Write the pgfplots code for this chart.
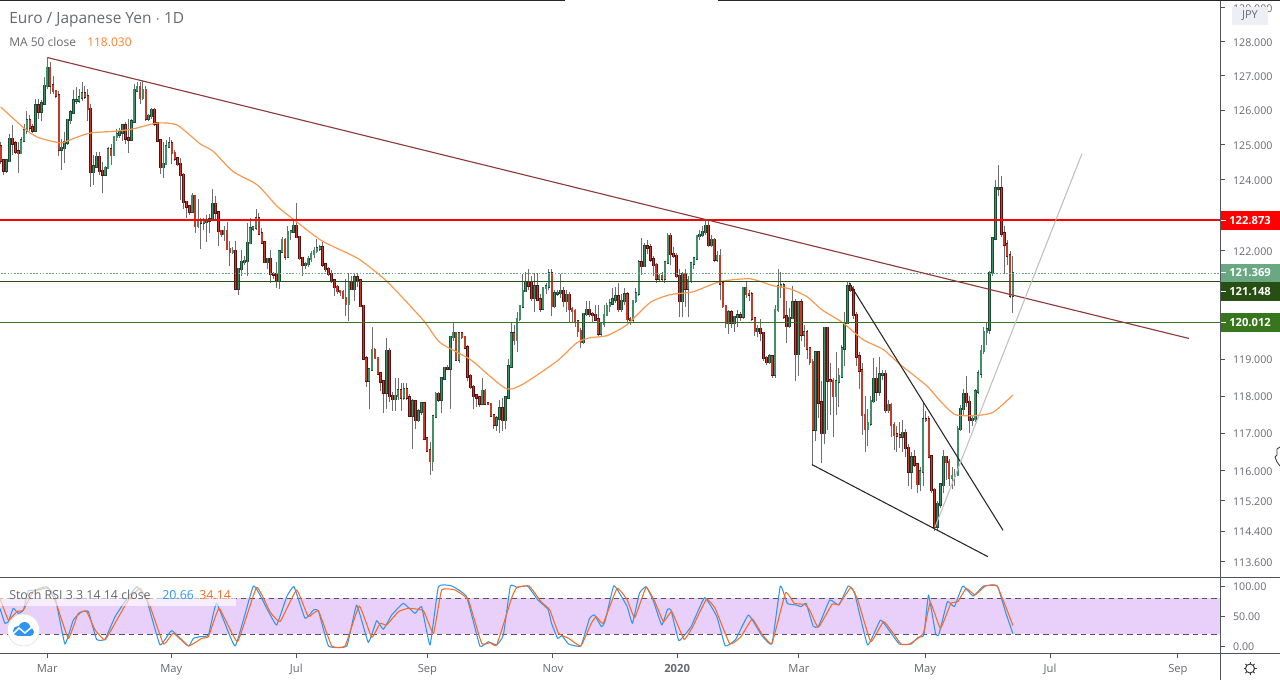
\documentclass[border=0pt]{standalone}
\usepackage{pgfplots}
\usepackage{pgfplotstable}
\usepackage{fontspec}
\setmainfont{Open Sans}
\pgfplotsset{compat=1.18}
\definecolor{gfill}{HTML}{3F9068}
\definecolor{gdark}{HTML}{1B4A33}
\definecolor{rfill}{HTML}{C63A2A}
\definecolor{rdark}{HTML}{5C0F0F}
\definecolor{wick}{HTML}{6E6E6E}
\definecolor{txt}{HTML}{666870}
\definecolor{axc}{HTML}{50535A}
\definecolor{maorange}{HTML}{F8994F}
\definecolor{band}{HTML}{E8D0FB}
\definecolor{bandline}{HTML}{5A5060}
\definecolor{kblue}{HTML}{2F96F0}
\definecolor{dorange}{HTML}{F66A24}
\definecolor{trend}{HTML}{8E3A3A}
\definecolor{lvlred}{HTML}{FF0000}
\definecolor{lvlpale}{HTML}{6AA884}
\definecolor{lvldark}{HTML}{274E13}
\definecolor{lvlgreen}{HTML}{38761D}
\definecolor{jpybox}{HTML}{EEEEF5}
\definecolor{maval}{HTML}{FF7F2A}
\pgfplotstableread{
n o c h l
0 124.96 124.55 125.08 124.45
1 124.55 124.27 124.55 124.15
2 124.27 124.55 124.6 124.2
3 124.54 125.17 125.32 124.54
4 125.17 125.04 125.57 124.73
5 125.04 124.82 125.1 124.75
6 124.82 124.77 125.08 124.21
7 124.77 125.13 125.22 124.74
8 125.13 125.42 125.6 125.08
9 125.42 125.71 125.98 125.32
10 125.71 125.5 125.85 125.4
11 125.5 125.41 125.6 125.35
12 125.41 126.14 126.32 125.36
13 126.14 125.96 126.32 125.74
14 125.96 126.2 126.3 125.7
15 126.2 126.7 126.96 126.18
16 126.7 127.22 127.55 126.62
17 127.22 126.72 127.4 126.47
18 126.72 126.55 127.0 126.47
19 126.55 126.43 126.6 126.35
20 126.43 124.87 126.57 124.68
21 124.87 124.91 125.18 124.28
22 124.91 125.07 125.38 124.48
23 125.07 125.72 125.75 125.0
24 125.72 125.93 126 125.6
25 125.93 126.28 126.58 125.9
26 126.28 126.29 126.67 126.18
27 126.29 126.37 126.63 126.2
28 126.37 126.49 126.81 126.27
29 126.49 126.4 126.71 126.32
30 126.4 126.04 126.61 125.69
31 126.04 124.23 126.17 123.8
32 124.23 124.39 124.73 123.86
33 124.39 124.65 124.79 124.39
34 124.65 124.25 124.79 124.15
35 124.25 124.15 124.5 123.64
36 124.15 124.34 124.39 124.12
37 124.34 124.87 124.93 124.34
38 124.87 124.72 125.03 124.44
39 124.72 125.23 125.25 124.7
40 125.23 125.3 125.45 125.1
41 125.3 125.36 125.5 125.2
42 125.36 125.56 125.6 125.12
43 125.56 125.19 125.65 125.02
44 125.19 125.15 125.74 124.77
45 125.15 125.68 125.75 125.1
46 125.68 126.58 126.77 125.65
47 126.58 126.67 126.81 126.53
48 126.67 126.36 126.81 126.17
49 126.36 126.58 126.86 126.3
50 126.58 125.76 126.7 125.7
51 125.76 125.84 125.9 125.7
52 125.84 126.01 126.08 125.75
53 126.01 125.62 126.05 125.55
54 125.62 125.13 125.65 125.08
55 125.13 124.37 125.18 124.17
56 124.37 124.45 125.08 124.07
57 124.45 124.96 125.13 124.43
58 124.96 125.05 125.23 124.9
59 125.05 124.77 125.13 124.45
60 124.77 124.61 124.85 124.55
61 124.61 124.46 124.65 124.4
62 124.46 124.14 124.63 123.42
63 124.14 123.37 124.2 123.19
64 123.37 123.24 123.4 122.93
65 123.24 123.1 123.3 123.0
66 123.1 123.55 123.63 123.08
67 123.55 122.7 123.55 122.5
68 122.7 122.81 123.45 122.65
69 122.81 122.79 122.93 122.06
70 122.79 122.81 122.93 122.6
71 122.81 122.85 123.0 122.25
72 122.85 122.88 123.03 122.5
73 122.88 123.32 123.74 122.85
74 123.32 123.08 123.54 122.9
75 123.08 122.56 123.07 122.13
76 122.56 122.47 122.6 122.4
77 122.47 122.56 122.7 122.27
78 122.56 122.05 122.8 122.03
79 122.05 121.97 122.27 121.58
80 121.97 122.0 122.1 121.9
81 122.0 120.96 122.27 120.96
82 120.96 121.49 121.52 120.77
83 121.49 121.69 122.03 121.3
84 121.69 121.72 121.85 121.6
85 121.72 122.22 122.77 121.3
86 122.22 122.62 122.93 122.18
87 122.62 122.65 122.7 122.55
88 122.65 122.9 123.19 122.6
89 122.9 122.49 123.07 122.49
90 122.49 122.24 122.65 122.2
91 122.24 121.69 122.27 121.66
92 121.69 121.77 121.8 121.5
93 121.77 121.36 122.03 121.1
94 121.36 121.33 121.4 121.2
95 121.33 121.16 121.68 120.97
96 121.16 121.98 122.03 120.94
97 121.98 122.3 122.4 121.95
98 122.3 121.84 122.35 121.75
99 121.84 122.53 122.7 121.8
100 122.53 122.54 122.6 122.3
101 122.54 122.7 122.88 122.5
102 122.7 122.39 123.36 122.35
103 122.39 121.8 122.4 121.75
104 121.8 121.6 121.8 121.3
105 121.6 121.63 121.7 121.5
106 121.63 121.77 121.85 121.55
107 121.77 121.91 122.0 121.7
108 121.91 122.0 122.1 121.8
109 122.0 122.06 122.33 121.95
110 122.06 122.1 122.15 122.0
111 122.1 121.62 122.27 121.55
112 121.62 121.49 121.65 121.4
113 121.49 121.36 121.55 121.3
114 121.36 121.17 121.47 121.1
115 121.17 120.99 121.2 120.75
116 120.99 120.88 121.05 120.8
117 120.88 120.85 120.9 120.75
118 120.85 120.69 120.9 120.65
119 120.69 120.52 121.2 120.2
120 120.52 121.11 121.39 120.04
121 121.11 120.94 121.3 120.9
122 120.94 121.25 121.35 120.6
123 121.25 121.17 121.39 121.0
124 121.17 120.46 121.19 120.46
125 120.46 119.02 120.5 119.0
126 119.02 118.43 119.1 118.24
127 118.43 118.72 118.75 117.65
128 118.72 119.26 119.9 118.7
129 119.26 119.03 119.3 119.0
130 119.03 118.62 119.05 118.6
131 118.62 118.4 118.65 118.15
132 118.4 118.1 118.45 117.55
133 118.1 119.23 119.58 117.65
134 119.23 118.0 119.3 117.85
135 118.0 117.92 118.1 117.6
136 117.92 118.0 118.5 117.6
137 118.0 118.15 118.5 117.9
138 118.15 117.96 118.35 117.6
139 117.96 118.18 118.35 117.9
140 118.18 117.96 118.35 117.9
141 117.96 117.47 118.05 117.45
142 117.47 117.85 117.92 116.58
143 117.85 117.35 117.9 117.12
144 117.35 117.59 117.65 117.3
145 117.59 117.8 117.85 117.5
146 117.8 116.86 117.85 116.85
147 116.86 116.53 116.9 116.5
148 116.53 116.26 116.75 115.88
149 116.26 117.45 117.5 116.0
150 117.45 118.05 118.1 117.4
151 118.05 117.91 118.1 117.85
152 117.91 118.48 118.52 117.55
153 118.48 118.77 118.8 118.45
154 118.77 118.75 118.85 118.7
155 118.75 119.61 119.65 117.65
156 119.61 119.72 120.0 119.5
157 119.72 119.0 119.75 118.95
158 119.0 119.71 119.75 118.9
159 119.71 119.61 119.75 119.55
160 119.61 119.32 119.65 119.3
161 119.32 118.54 119.4 118.4
162 118.54 118.24 118.6 118.2
163 118.24 118.01 118.3 117.65
164 118.01 117.96 118.05 117.7
165 117.96 117.8 118.0 117.7
166 117.8 118.14 118.5 117.75
167 118.14 117.8 118.2 117.75
168 117.8 117.79 117.85 117.75
169 117.79 117.48 117.8 117.45
170 117.48 117.23 117.5 117.1
171 117.23 117.4 117.45 117.05
172 117.4 117.67 117.9 117.0
173 117.67 117.35 117.95 117.05
174 117.35 117.96 118.0 117.1
175 117.96 118.8 119.0 117.95
176 118.8 119.7 120.0 118.75
177 119.7 119.53 119.95 119.4
178 119.53 120.1 120.3 119.2
179 120.1 120.46 120.5 120.05
180 120.45 120.88 121.35 120.4
181 120.88 121.11 121.4 120.85
182 121.11 121.03 121.48 120.9
183 121.11 120.69 121.3 120.6
184 120.69 121.0 121.39 120.3
185 121.0 120.65 121.39 120.6
186 120.65 120.4 120.8 120.3
187 120.4 120.97 121.0 120.35
188 120.97 121.0 121.1 120.8
189 121.0 121.37 121.48 120.9
190 121.37 120.46 121.48 120.2
191 120.46 120.81 120.9 120.4
192 120.81 120.83 120.9 120.75
193 120.83 120.88 121.35 120.7
194 120.88 120.6 121.0 120.45
195 120.6 120.77 120.9 120.3
196 120.77 120.38 120.85 120.0
197 120.38 120.33 120.45 120.0
198 120.33 120.03 120.38 119.9
199 120.03 119.78 120.05 119.6
200 119.78 119.48 119.85 119.3
201 119.48 120.24 120.28 119.42
202 120.24 120.35 120.6 120.2
203 120.35 120.24 120.6 120.15
204 120.24 120.22 120.3 120.0
205 120.22 120.09 120.5 120.05
206 120.09 119.71 120.5 119.65
207 119.71 119.97 120.0 119.65
208 119.97 120.22 120.5 119.9
209 120.22 120.46 120.55 120.2
210 120.46 120.54 120.65 120.3
211 120.54 120.64 120.97 120.5
212 120.64 120.72 121.0 120.55
213 120.72 120.38 121.1 120.3
214 120.38 120.6 120.8 120.3
215 120.6 120.78 120.95 120.5
216 120.78 120.1 120.85 120.0
217 120.1 120.09 120.15 119.95
218 120.09 120.6 120.62 120.0
219 120.6 120.81 120.95 120.55
220 120.81 121.67 121.75 120.75
221 121.67 121.58 122.37 121.34
222 121.58 122.12 122.22 121.55
223 122.12 122.1 122.3 121.9
224 122.1 121.76 122.2 121.7
225 121.76 121.6 121.85 121.3
226 121.6 121.23 121.65 121.1
227 121.23 121.3 121.35 121.15
228 121.3 121.23 121.4 121.15
229 121.23 121.67 121.7 121.1
230 121.67 122.42 122.5 121.65
231 122.42 121.91 122.5 121.6
232 121.91 121.86 122.1 121.8
233 121.86 121.3 121.95 121.25
234 121.3 120.6 121.48 120.16
235 120.6 121.36 121.4 120.15
236 121.36 120.96 121.48 120.45
237 120.96 121.19 121.3 120.15
238 121.19 121.65 121.7 121.1
239 121.65 121.78 121.8 121.5
240 121.78 122.42 122.45 121.75
241 122.42 122.44 122.6 122.3
242 122.44 122.53 122.7 122.4
243 122.53 122.7 122.87 122.45
244 122.7 122.16 122.87 122.1
245 122.16 122.3 122.45 122.1
246 122.3 121.76 122.35 121.7
247 121.76 121.85 122.0 121.7
248 121.85 121.09 122.05 120.62
249 121.09 120.46 121.1 120.4
250 120.46 119.99 120.5 119.85
251 119.99 120.29 120.35 119.7
252 120.29 119.99 120.35 119.85
253 119.99 120.16 120.2 119.75
254 120.16 120.2 120.35 119.9
255 120.2 120.18 120.3 120.05
256 120.18 120.97 121.0 120.1
257 120.97 120.8 121.17 120.7
258 120.8 120.78 120.9 120.6
259 120.78 120.12 120.85 120.05
260 120.12 119.78 120.15 119.65
261 119.78 119.83 119.95 119.6
262 119.83 119.72 120.1 119.5
263 119.72 119.04 119.75 118.95
264 119.04 118.93 119.1 118.85
265 118.93 119.08 119.15 118.88
266 119.08 118.58 119.1 118.5
267 118.58 120.36 120.5 118.5
268 120.36 121.0 121.48 120.3
269 121.0 121.03 121.4 120.7
270 121.03 120.18 121.1 120.1
271 120.18 119.91 120.6 119.45
272 119.91 120.13 120.4 119.85
273 120.13 120.56 121.03 120.1
274 120.56 119.15 120.65 118.41
275 119.15 120.56 120.6 118.55
276 120.56 119.68 120.65 119.5
277 119.68 119.74 119.95 119.35
278 119.74 119.3 119.8 119.0
279 119.3 118.92 119.35 118.85
280 118.92 117.1 119.0 116.13
281 117.1 119.18 119.2 116.8
282 119.18 117.82 119.2 117.4
283 117.82 117.0 118.4 116.2
284 117.0 119.86 119.9 116.7
285 119.86 118.43 119.9 117.09
286 118.43 118.41 118.9 117.5
287 118.41 118.0 118.5 116.9
288 118.0 118.39 119.2 117.5
289 118.39 118.54 118.75 117.7
290 118.54 119.3 119.4 118.5
291 119.3 119.99 120.3 118.82
292 119.99 121.0 121.13 119.97
293 121.0 120.91 121.1 120.85
294 120.91 120.21 121.02 120.1
295 120.21 119.07 120.3 118.82
296 119.07 118.69 119.2 118.2
297 118.69 117.49 118.9 116.96
298 117.49 117.11 118.0 116.5
299 117.11 117.27 117.65 116.65
300 117.27 117.87 118.0 117.2
301 117.87 118.47 119.04 117.8
302 118.47 118.13 118.8 117.87
303 118.13 118.58 119.05 118.0
304 118.58 118.6 118.7 118.45
305 118.6 117.63 118.7 117.55
306 117.63 117.75 117.9 117.55
307 117.75 117.22 117.8 116.9
308 117.22 116.96 117.3 116.55
309 116.96 116.94 117.2 116.5
310 116.94 116.91 117.3 116.6
311 116.91 117.0 117.35 116.5
312 117.0 116.6 117.1 116.35
313 116.6 115.98 116.7 115.6
314 115.98 116.35 116.5 115.5
315 116.35 116.17 116.55 116.1
316 116.17 115.64 116.2 115.4
317 115.64 115.98 116.1 115.45
318 115.98 117.37 117.8 115.6
319 117.37 117.35 117.6 117.3
320 117.37 116.37 117.45 116.35
321 116.37 115.48 116.4 115.4
322 115.48 114.52 115.55 114.4
323 114.52 115.11 115.2 114.42
324 115.11 115.62 115.65 115.0
325 115.62 116.36 116.55 115.4
326 116.36 116.23 116.4 115.75
327 116.23 115.8 116.3 115.6
328 115.8 115.86 116.1 115.5
329 115.86 115.88 116.05 115.6
330 115.88 117.11 117.2 115.85
331 117.11 117.65 117.75 117.05
332 117.65 118.06 118.2 117.5
333 118.06 117.84 118.54 117.7
334 117.84 117.36 118.0 117.0
335 117.36 117.38 117.5 117.2
336 117.38 118.12 118.2 117.3
337 118.12 118.61 118.7 118.05
338 118.61 119.23 119.4 118.5
339 119.23 119.75 119.9 119.15
340 119.75 119.81 120.0 119.4
341 119.81 121.38 121.45 119.7
342 121.38 122.35 122.4 121.3
343 122.35 123.75 124.0 122.3
344 123.75 123.76 124.43 123.55
345 123.75 122.49 124.12 122.4
346 122.49 122.18 122.7 121.35
347 122.18 121.87 122.3 121.6
348 121.87 120.76 122.0 120.7
349 120.76 121.37 121.86 120.28
}\candles
\makeatletter
\gdef\wickpath{}\gdef\greenpath{}\gdef\redpath{}
\pgfplotstablegetrowsof{\candles}
\pgfmathtruncatemacro{\lastrow}{\pgfplotsretval-1}
\pgfplotsforeachungrouped \r in {0,...,\lastrow}{%
  \pgfplotstablegetelem{\r}{n}\of{\candles}\let\vn\pgfplotsretval
  \pgfplotstablegetelem{\r}{o}\of{\candles}\let\vo\pgfplotsretval
  \pgfplotstablegetelem{\r}{c}\of{\candles}\let\vc\pgfplotsretval
  \pgfplotstablegetelem{\r}{h}\of{\candles}\let\vh\pgfplotsretval
  \pgfplotstablegetelem{\r}{l}\of{\candles}\let\vl\pgfplotsretval
  \xdef\wickpath{\wickpath(\vn,\vl)(\vn,\vh)(\vn,nan)}%
  \pgfmathparse{\vc>=\vo?1:0}%
  \ifdim\pgfmathresult pt>0.5pt
    \xdef\greenpath{\greenpath(\vn,\vo)(\vn,\vc)(\vn,nan)}%
  \else
    \xdef\redpath{\redpath(\vn,\vo)(\vn,\vc)(\vn,nan)}%
  \fi
}
\makeatother
\begin{document}
\begin{tikzpicture}
\useasboundingbox (0pt,0pt) rectangle (960pt,-510pt);
\begin{axis}[
  at={(0pt,0pt)},anchor=north west,scale only axis,width=915pt,height=432.75pt,
  xmin=-0.28,xmax=420.41,ymode=log,ymin=113.21,ymax=129.24,
  axis line style={draw=none},xtick=\empty,
  ytick pos=right,yticklabel pos=right,tick align=outside,
  ytick={113.6,114.4,115.2,116,117,118,119,122,124,125,126,127,128,129},
  yticklabels={113.600,114.400,115.200,116.000,117.000,118.000,119.000,122.000,124.000,125.000,126.000,127.000,128.000,129.000},
  yminorticks=false,unbounded coords=jump,
  major tick length=3.75pt,
  tick style={draw=axc,line width=0.75pt},
  y tick label style={font=\fontsize{8.0}{10}\selectfont,text=txt,anchor=west,xshift=2.5pt,yshift=-0.6pt},
]
\edef\doplots{%
\noexpand\addplot[wick,line width=0.75pt,line cap=butt,forget plot] coordinates {\wickpath};
\noexpand\addplot[gdark,line width=1.95pt,line cap=rect,forget plot] coordinates {\greenpath};
\noexpand\addplot[gfill,line width=1.1pt,line cap=rect,forget plot] coordinates {\greenpath};
\noexpand\addplot[rdark,line width=1.95pt,line cap=rect,forget plot] coordinates {\redpath};
\noexpand\addplot[rfill,line width=1.1pt,line cap=rect,forget plot] coordinates {\redpath};
}
\doplots
\addplot[maorange,line width=0.9pt,line join=round,smooth,tension=0.4] coordinates {
(0,126.09)(8.3,125.46)(12.5,125.23)(17,125.12)(21.1,125.06)(24.6,125.17)(30.8,125.34)(40,125.4)(45.6,125.46)(53.9,125.63)(60.8,125.57)(68.7,125.03)(73.2,124.82)(80.1,124.24)(88.4,123.86)(95.3,123.25)(100.8,122.89)(110.1,122.31)(117,122.03)(123.9,121.75)(133.2,121.14)(145.6,120.08)(151.5,119.46)(161.8,119.0)(168.7,118.54)(174.6,118.19)(180,118.32)(191.8,118.95)(198.7,119.46)(203.2,119.59)(209,119.65)(215.9,119.95)(223.9,120.56)(230.8,120.78)(238.7,120.86)(248,121.14)(258.3,121.22)(266.3,121.03)(272.1,120.94)(278,120.72)(283.2,120.36)(290.4,120.0)(297.3,119.54)(304.2,119.27)(310.1,118.86)(319.4,118.27)(323.9,117.87)(329,117.5)(335.2,117.47)(342.1,117.56)(349,118.03)};
\addplot[lvlred,line width=1.15pt] coordinates {(-1,122.86)(421,122.86)};
\addplot[lvlpale,line width=0.6pt,dash pattern=on 1.2pt off 1.2pt] coordinates {(-1,121.369)(421,121.369)};
\addplot[lvldark,line width=0.85pt] coordinates {(-1,121.148)(421,121.148)};
\addplot[lvlgreen,line width=0.95pt] coordinates {(-1,120.012)(421,120.012)};
\addplot[trend,line width=0.85pt] coordinates {(16.3,127.53)(409.7,119.57)};
\addplot[black!85,line width=0.8pt] coordinates {(292.5,121.11)(345.6,114.42)};
\addplot[black!85,line width=0.8pt] coordinates {(279.7,116.16)(340.4,113.73)};
\addplot[black!25,line width=0.8pt] coordinates {(322.1,114.50)(372.8,124.75)};
\end{axis}
\begin{axis}[
  at={(0pt,-432.75pt)},anchor=north west,scale only axis,width=915pt,height=57pt,
  xmin=-0.28,xmax=420.41,ymin=-11.67,ymax=115,
  axis line style={draw=none},
  ytick pos=right,yticklabel pos=right,xtick pos=bottom,tick align=outside,
  ytick={0,50,100},yticklabels={0.00,50.00,100.00},
  xtick={16.0,58.8,101.9,147.1,190.4,233.2,275.2,318.7,361.8,405.9},
  xticklabels={Mar,May,Jul,Sep,Nov,\textbf{2020},Mar,May,Jul,Sep},
  major tick length=3.75pt,
  tick style={draw=axc,line width=0.75pt},
  y tick label style={font=\fontsize{8.0}{10}\selectfont,text=txt,anchor=west,xshift=2.5pt,yshift=-0.6pt},
  x tick label style={font=\fontsize{8.4}{10}\selectfont,text=txt,yshift=-1pt},
]
\addplot[fill=band,draw=none] coordinates {(-1,20)(421,20)(421,80)(-1,80)} \closedcycle;
\addplot[bandline,line width=0.7pt,dash pattern=on 4pt off 3pt] coordinates {(-1,80)(421,80)};
\addplot[bandline,line width=0.7pt,dash pattern=on 4pt off 3pt] coordinates {(-1,20)(421,20)};
\addplot[kblue,line width=0.8pt,line join=round,smooth,tension=0.2] coordinates {
(-0.3,62.8)(1.4,37.8)(2.6,40.6)(4.3,62.8)(6,54.4)(7.8,60)(9.5,92.2)(11.2,92.2)(15.8,98.9)(18.7,82.2)(22.1,3.3)(25,43.3)(27.9,57.2)(30.2,57.2)(33,11.1)(35.9,11.1)(39.4,48.9)(42.8,73.9)(46.9,98.9)(50.3,76.7)(54.9,1.7)(58.9,25.6)(64.7,0)(66.4,12.8)(68.7,15.6)(71.6,18.3)(74.4,71.1)(80.8,0)(87.1,100)(91.7,62.8)(95.1,35)(98.6,82.2)(101.1,98.9)(104.9,46.1)(107.8,60)(109.5,58.9)(113,0)(119.3,0)(122.7,68.3)(126.7,6.1)(129.6,42.2)(131.9,27.8)(134.8,51.7)(138.8,71.1)(142.8,54.4)(145.1,65.6)(148,1.7)(150.9,98.9)(155.5,100)(160.6,82.2)(165.2,0)(168.1,7.2)(171,1.7)(173.3,18.3)(175.7,100)(178,97.8)(181.6,100)(185.2,76.7)(188.7,61.1)(189.9,37.8)(192,12.8)(193.5,17.2)(195.8,3.3)(200,0)(203,46.1)(204.7,51.7)(207.1,32.2)(208.3,40.6)(211.3,100)(213,90.6)(216,65.6)(217.8,37.8)(220.2,87.8)(222.5,98.9)(224.9,76.7)(227.9,35)(229.9,61.1)(231.1,60)(233.8,8.9)(238,32.2)(242.7,80.6)(246.9,48.9)(249.8,0)(253.4,11.1)(257.8,51.7)(262.3,18.3)(265.9,3.3)(268.8,100)(271.2,71.1)(274.2,68.3)(276,65.6)(277.7,71.1)(280.1,33.3)(281.9,32.2)(285.8,76.7)(289,68.3)(292.2,100)(294.4,87.8)(298.9,1.7)(303.3,43.3)(306.2,26.7)(309.8,3.3)(313.9,3.3)(316.3,14.4)(318.3,18.3)(319.9,85)(322.3,21.1)(323.4,18.3)(326.4,73.9)(328.8,65.6)(331.7,100)(335.3,83.3)(338.9,100)(343.6,100)(346.6,54.4)(349,20.66)};
\addplot[dorange,line width=0.8pt,line join=round,smooth,tension=0.2] coordinates {
(-0.3,79.4)(2.6,43.3)(5.5,57.2)(7.8,60)(11.2,90.6)(16.4,96.1)(19.3,68.3)(23.3,12.8)(26.7,54.4)(29.6,57.2)(32.5,26.7)(35.9,10)(40,43.3)(44,76.7)(48,96.1)(51.5,65.6)(56.1,3.3)(59.5,21.1)(64.7,0)(69.3,12.8)(71.6,15.6)(75.3,62.8)(81.6,7.2)(88.2,97.8)(92.8,57.2)(96.3,40.6)(102,93.3)(106,48.9)(109.5,58.9)(114.1,0)(118.7,0)(123.6,66.7)(127.9,14.4)(130.8,37.8)(133,35)(137.1,57.2)(140.5,62.8)(145.7,58.9)(149.2,21.1)(152,93.3)(156.6,93.3)(161.2,76.7)(165.8,4.4)(168.7,5.6)(171,1.7)(176.3,82.2)(178,97.8)(182.2,100)(186.3,73.9)(189.3,60)(192.3,21.1)(195.8,12.8)(200,0)(203.6,37.8)(205.3,48.9)(207.7,37.8)(212.5,96.1)(216,76.7)(218.6,47.2)(222.5,97.8)(225.5,73.9)(228.5,40.6)(231.4,57.2)(235.6,11.1)(238.6,32.2)(243.3,77.8)(246.3,62.8)(251.4,3.3)(255.2,15.6)(259.1,45)(262.3,21.1)(265.9,4.4)(270.6,88.9)(273.6,71.1)(277.2,69.4)(278.9,60)(281.9,31.1)(286.6,69.4)(289,69.4)(293.2,97.8)(295.5,76.7)(300,7.2)(304.5,40.6)(310.4,3.3)(313.4,3.3)(318.1,21.1)(320.5,72.8)(324,29.4)(327.6,71.1)(330,73.9)(332.9,96.1)(335.9,85)(339.5,100)(343.6,100)(349,34.14)};
\end{axis}
\begin{scope}[x=0.75pt,y=-0.75pt]
\draw[axc,line width=0.8pt] (1220.5,0)--(1220.5,680);
\draw[axc,line width=0.8pt] (0,577.5)--(1280,577.5);
\draw[axc,line width=0.8pt] (0,653.5)--(1280,653.5);
\draw[black!85,line width=1pt] (0,0.5)--(565,0.5);
\draw[black!85,line width=1pt] (718,0.5)--(1280,0.5);
\fill[lvlred] (1220.9,211) rectangle (1280,230);
\fill[lvlpale] (1220.9,264) rectangle (1280,282);
\fill[lvldark] (1220.9,282) rectangle (1280,301);
\fill[lvlgreen] (1220.9,313) rectangle (1280,332);
\foreach \yy in {220.5,273,291.5,322.5} \draw[white,line width=0.75pt] (1221,\yy)--(1226,\yy);
\foreach \yy/\lab in {220.5/122.873,273/121.369,291.5/121.148,322.5/120.012}
  \node[anchor=west,inner sep=0,text=white,font=\fontsize{8.4}{10}\selectfont\bfseries] at (1229,\yy) {\lab};
\fill[jpybox] (1232,7) rectangle (1268,25);
\node[text=txt,font=\fontsize{8.2}{10}\selectfont,inner sep=0] at (1250,16) {JPY};
\node[anchor=west,inner sep=0,text=txt,font=\fontsize{11.6}{13}\selectfont] at (9,19.5) {Euro / Japanese Yen $\cdot$ 1D};
\node[anchor=west,inner sep=0,text=txt,font=\fontsize{9.0}{10}\selectfont] at (9,42) {MA 50 close};
\node[anchor=west,inner sep=0,text=maval,font=\fontsize{9.0}{10}\selectfont] at (87,42) {118.030};
\fill[white,opacity=0.62] (0,586) rectangle (236,606);
\node[anchor=west,inner sep=0,text=txt,font=\fontsize{9.3}{10}\selectfont] at (9,595) {Stoch RSI 3 3 14 14 close};
\node[anchor=west,inner sep=0,text=kblue,font=\fontsize{9.3}{10}\selectfont] at (162,595) {20.66};
\node[anchor=west,inner sep=0,text=dorange,font=\fontsize{9.3}{10}\selectfont] at (199,595) {34.14};
\fill[white] (23.5,630) circle (16);
\draw[black!12,line width=0.5pt] (23.5,630) circle (16);
\fill[kblue] (18,631) circle (5);
\fill[kblue] (24.5,628) circle (6);
\fill[kblue] (30,632) circle (4);
\fill[kblue] (18,631) rectangle (30,636);
\draw[white,line width=1.1pt] (13,634)--(19,628)--(25,633)--(34,625);
\draw[black!80,line width=0.7pt] (1250,668.5) circle (4.5);
\foreach \a in {0,45,...,315} \draw[black!80,line width=0.7pt] (1250,668.5)++(\a:4.5)--++(\a:2);
\draw[black!80,line width=0.6pt,fill=white] (1280,447)--(1277,449)--(1277,455)--(1275,457)--(1277,462)--(1280,466);
\end{scope}
\end{tikzpicture}
\end{document}
